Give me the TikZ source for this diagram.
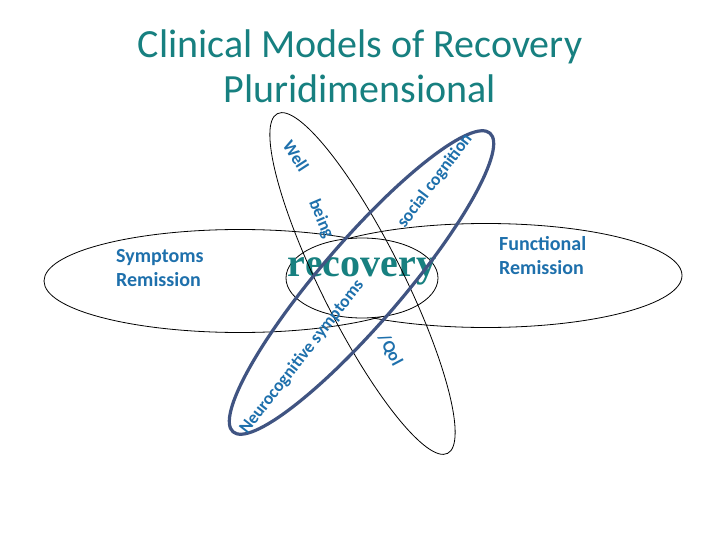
\documentclass[tikz,border=0pt]{standalone}
\usepackage{fontspec}
\setmainfont{Carlito}[BoldFont={Carlito Bold}]
\newfontfamily\serifbold{Liberation Serif}[BoldFont={Liberation Serif Bold}]
\definecolor{titleteal}{RGB}{23,128,128}
\definecolor{lblblue}{RGB}{30,112,172}
\definecolor{ringblue}{RGB}{64,84,130}
\begin{document}
\begin{tikzpicture}[x=1pt,y=-1pt,
  thinring/.style={draw=black,line width=0.8pt},
  thickring/.style={draw=ringblue,line width=3.2pt},
  lbl/.style={text=lblblue,font=\bfseries\fontsize{20}{24}\selectfont,inner sep=0pt,align=left},
  rlbl/.style={text=lblblue,font=\bfseries\fontsize{17.5}{20}\selectfont,inner sep=0pt},
]
\fill[white] (0,0) rectangle (720,540);
\useasboundingbox (0,0) rectangle (720,540);
% horizontal rings
\draw[thinring] (240,281) ellipse [x radius=196, y radius=51.5];
\draw[thinring] (486,275.5) ellipse [x radius=196, y radius=52];
\draw[thinring, fill=white] (362,278) ellipse [x radius=76, y radius=40];
\node[text=titleteal, font=\serifbold\bfseries\fontsize{40}{40}\selectfont, anchor=base, inner sep=0pt] (recovery) at (362,276) {recovery};
% tall ring
\draw[thinring, rotate around={-63.4:(362.5,283.5)}] (362.5,283.5) ellipse [x radius=190, y radius=41];
% blue ring
\draw[thickring, rotate around={49.3:(361.5,282.5)}] (361.5,282.5) ellipse [x radius=197, y radius=41];
% title
\node[text=titleteal, font=\fontsize{40}{45}\selectfont, align=center, anchor=base, inner sep=0pt] (title) at (360,103) {Clinical Models of Recovery\\Pluridimensional};
% labels
\node[lbl, anchor=base west] (symrem) at (116,286) {Symptoms\\Remission};
\node[lbl, anchor=base west] (funrem) at (499,274) {Functional\\Remission};
\node[rlbl, rotate=-57] (well) at (296,156) {Well};
\node[rlbl, rotate=-67] (being) at (321,219) {being};
\node[rlbl, rotate=53] (soccog) at (435,181) {social cognition};
\node[rlbl, rotate=52] (neuro) at (302,357) {Neurocognitive symptoms};
\node[rlbl, rotate=-62] (qol) at (390,350) {/Qol};
\end{tikzpicture}
\end{document}
